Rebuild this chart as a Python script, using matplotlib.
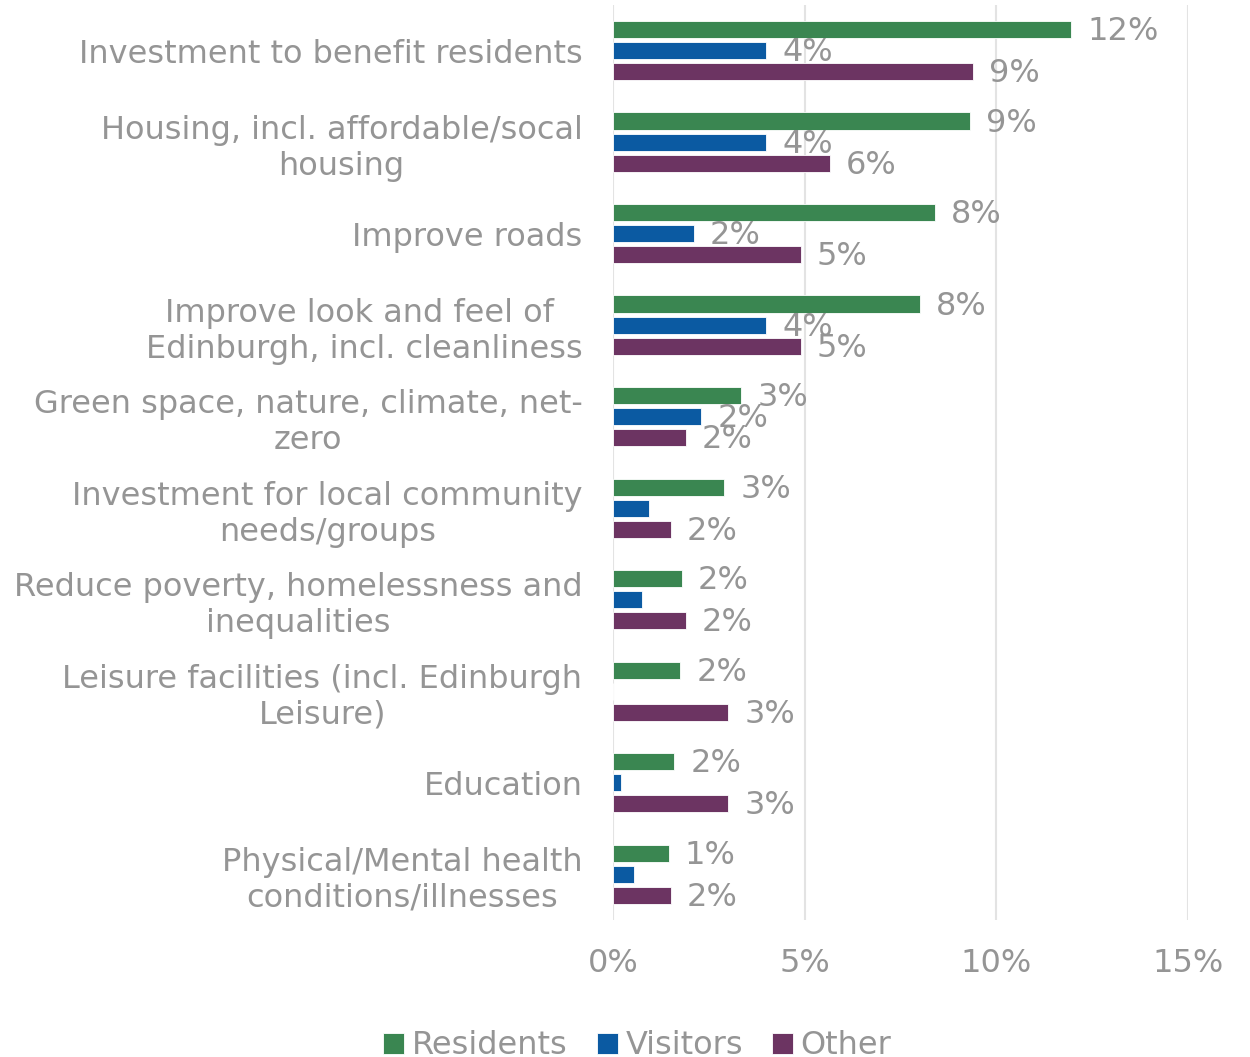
import numpy as np
import matplotlib.pyplot as plt
from matplotlib.ticker import FuncFormatter

categories = [
    "Investment to benefit residents",
    "Housing, incl. affordable/socal\nhousing",
    "Improve roads",
    "Improve look and feel of \nEdinburgh, incl. cleanliness",
    "Green space, nature, climate, net-\nzero",
    "Investment for local community\nneeds/groups",
    "Reduce poverty, homelessness and\ninequalities",
    "Leisure facilities (incl. Edinburgh\nLeisure)",
    "Education",
    "Physical/Mental health\nconditions/illnesses",
]
residents = [11.95, 9.3, 8.4, 8.0, 3.35, 2.9, 1.8, 1.75, 1.6, 1.45]
visitors = [4.0, 4.0, 2.1, 4.0, 2.3, 0.95, 0.75, 0.0, 0.2, 0.55]
other = [9.4, 5.65, 4.9, 4.9, 1.9, 1.5, 1.9, 3.0, 3.0, 1.5]

series = [
    ("Residents", residents, "#3a8651", 0.0),
    ("Visitors", visitors, "#0b5aa2", 2.0),
    ("Other", other, "#6c3462", 0.0),
]

grey = "#959595"
fsize = 23
plt.rcParams["font.family"] = "DejaVu Sans"

fig = plt.figure(figsize=(12.5, 10.57), dpi=100)
ax = fig.add_axes([0.4904, 0.1296, 0.46, 0.8657])

y = np.arange(len(categories))
pitch = 0.23
height = 0.19

for i, (name, vals, color, min_label) in enumerate(series):
    pos = y + (i - 1) * pitch
    ax.barh(pos, vals, height=height, color=color, edgecolor="white",
            linewidth=0.6, label=name)
    for p, v in zip(pos, vals):
        if v > 0 and v >= min_label:
            ax.text(v + 0.42, p + 0.02, "%.0f%%" % v, va="center", ha="left",
                    fontsize=fsize, color=grey)

ax.set_xlim(0, 15)
ax.set_ylim(len(categories) - 0.5, -0.5)
ax.set_xticks([0, 5, 10, 15])
ax.xaxis.set_major_formatter(FuncFormatter(lambda v, _: "%d%%" % v))
ax.set_yticks(y)
ax.set_yticklabels(categories, linespacing=1.2, multialignment="center")
ax.tick_params(axis="both", length=0, labelsize=fsize, labelcolor=grey)
ax.tick_params(axis="x", pad=20)
ax.tick_params(axis="y", pad=22)

ax.grid(axis="x", color="#e3e3e3", linewidth=1.5)
ax.set_axisbelow(True)
for s in ax.spines.values():
    s.set_visible(False)

fig.legend(loc="center", bbox_to_anchor=(0.51, 1 - 1046 / 1057), ncol=3,
           frameon=False, fontsize=fsize, labelcolor=grey, handlelength=0.65,
           handleheight=0.65, handletextpad=0.25, columnspacing=0.9)

fig.savefig("out.png", dpi=100)
